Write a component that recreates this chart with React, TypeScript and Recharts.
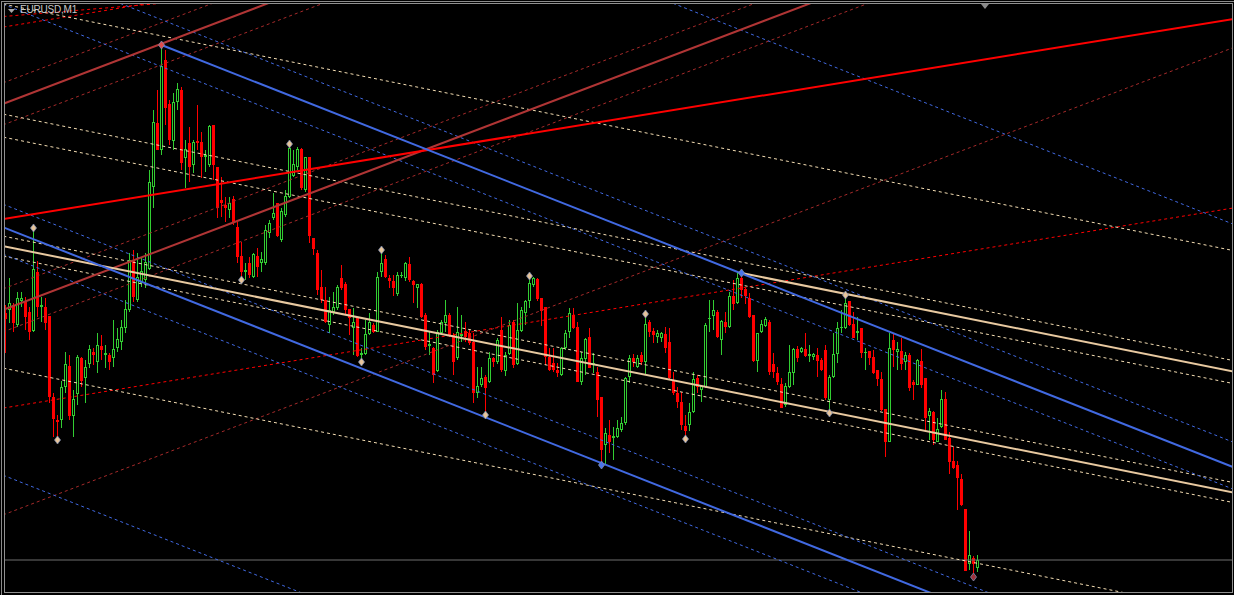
import React from "react";
import { ComposedChart, XAxis, YAxis, Bar, Scatter, ReferenceLine } from "recharts";

// ── EURUSD M1 bars, left to right ─────────────────────────────
const OPEN = [
  1.08687, 1.08690, 1.08695, 1.08675, 1.08699, 1.08698, 1.08688, 1.08669, 1.08728, 1.08693,
  1.08693, 1.08684, 1.08603, 1.08580, 1.08580, 1.08613, 1.08634, 1.08584, 1.08606, 1.08642,
  1.08622, 1.08636, 1.08648, 1.08638, 1.08654, 1.08645, 1.08645, 1.08642, 1.08652, 1.08658,
  1.08672, 1.08690, 1.08740, 1.08700, 1.08717, 1.08720, 1.08731, 1.08813, 1.08877, 1.08850,
  1.08940, 1.08896, 1.08859, 1.08898, 1.08910, 1.08842, 1.08857, 1.08835, 1.08859, 1.08858,
  1.08843, 1.08835, 1.08875, 1.08833, 1.08800, 1.08795, 1.08790, 1.08801, 1.08773, 1.08744,
  1.08728, 1.08737, 1.08723, 1.08744, 1.08737, 1.08737, 1.08767, 1.08782, 1.08797, 1.08760,
  1.08785, 1.08803, 1.08824, 1.08833, 1.08851, 1.08810, 1.08843, 1.08762, 1.08747, 1.08713,
  1.08700, 1.08675, 1.08688, 1.08692, 1.08722, 1.08716, 1.08691, 1.08672, 1.08682, 1.08645,
  1.08646, 1.08666, 1.08675, 1.08668, 1.08728, 1.08741, 1.08722, 1.08719, 1.08706, 1.08724,
  1.08722, 1.08736, 1.08719, 1.08712, 1.08716, 1.08685, 1.08654, 1.08652, 1.08629, 1.08667,
  1.08677, 1.08685, 1.08665, 1.08642, 1.08664, 1.08669, 1.08667, 1.08658, 1.08607, 1.08615,
  1.08623, 1.08618, 1.08642, 1.08638, 1.08670, 1.08629, 1.08646, 1.08678, 1.08636, 1.08669,
  1.08687, 1.08699, 1.08715, 1.08721, 1.08702, 1.08693, 1.08643, 1.08637, 1.08630, 1.08625,
  1.08652, 1.08668, 1.08685, 1.08673, 1.08618, 1.08641, 1.08663, 1.08635, 1.08628, 1.08603,
  1.08555, 1.08565, 1.08562, 1.08563, 1.08570, 1.08577, 1.08623, 1.08642, 1.08633, 1.08645,
  1.08638, 1.08678, 1.08669, 1.08663, 1.08662, 1.08666, 1.08658, 1.08620, 1.08607, 1.08598,
  1.08574, 1.08575, 1.08588, 1.08622, 1.08610, 1.08613, 1.08681, 1.08684, 1.08688, 1.08660,
  1.08678, 1.08673, 1.08704, 1.08697, 1.08722, 1.08711, 1.08702, 1.08685, 1.08639, 1.08668,
  1.08674, 1.08678, 1.08636, 1.08627, 1.08616, 1.08595, 1.08613, 1.08627, 1.08651, 1.08648,
  1.08651, 1.08644, 1.08643, 1.08645, 1.08640, 1.08650, 1.08600, 1.08623, 1.08646, 1.08672,
  1.08672, 1.08699, 1.08676, 1.08667, 1.08672, 1.08647, 1.08649, 1.08643, 1.08630, 1.08621,
  1.08591, 1.08558, 1.08660, 1.08648, 1.08649, 1.08638, 1.08645, 1.08618, 1.08615, 1.08639,
  1.08622, 1.08584, 1.08588, 1.08558, 1.08573, 1.08601, 1.08562, 1.08539, 1.08535, 1.08521,
  1.08491, 1.08436, 1.08442, 1.08432,
];

const HIGH = [
  1.08695, 1.08722, 1.08697, 1.08708, 1.08708, 1.08703, 1.08693, 1.08773, 1.08739, 1.08703,
  1.08702, 1.08684, 1.08607, 1.08585, 1.08619, 1.08648, 1.08645, 1.08610, 1.08645, 1.08643,
  1.08640, 1.08655, 1.08652, 1.08667, 1.08665, 1.08655, 1.08647, 1.08680, 1.08672, 1.08680,
  1.08700, 1.08747, 1.08750, 1.08747, 1.08743, 1.08747, 1.08830, 1.08890, 1.08910, 1.08957,
  1.08950, 1.08900, 1.08907, 1.08917, 1.08913, 1.08860, 1.08873, 1.08860, 1.08895, 1.08868,
  1.08850, 1.08875, 1.08875, 1.08833, 1.08823, 1.08803, 1.08803, 1.08804, 1.08778, 1.08758,
  1.08737, 1.08743, 1.08747, 1.08752, 1.08748, 1.08775, 1.08780, 1.08807, 1.08797, 1.08792,
  1.08810, 1.08856, 1.08850, 1.08853, 1.08852, 1.08843, 1.08843, 1.08762, 1.08750, 1.08730,
  1.08713, 1.08703, 1.08708, 1.08715, 1.08735, 1.08718, 1.08691, 1.08692, 1.08682, 1.08652,
  1.08680, 1.08687, 1.08677, 1.08728, 1.08750, 1.08745, 1.08725, 1.08725, 1.08728, 1.08728,
  1.08738, 1.08743, 1.08720, 1.08716, 1.08717, 1.08687, 1.08668, 1.08653, 1.08670, 1.08680,
  1.08700, 1.08687, 1.08667, 1.08693, 1.08685, 1.08678, 1.08670, 1.08667, 1.08633, 1.08633,
  1.08625, 1.08648, 1.08643, 1.08662, 1.08683, 1.08648, 1.08680, 1.08680, 1.08697, 1.08693,
  1.08700, 1.08725, 1.08723, 1.08722, 1.08702, 1.08693, 1.08652, 1.08652, 1.08637, 1.08653,
  1.08670, 1.08692, 1.08692, 1.08678, 1.08648, 1.08662, 1.08672, 1.08647, 1.08633, 1.08603,
  1.08572, 1.08580, 1.08573, 1.08580, 1.08583, 1.08623, 1.08645, 1.08646, 1.08645, 1.08648,
  1.08688, 1.08680, 1.08672, 1.08670, 1.08668, 1.08673, 1.08672, 1.08628, 1.08613, 1.08608,
  1.08585, 1.08597, 1.08628, 1.08625, 1.08615, 1.08677, 1.08700, 1.08700, 1.08690, 1.08680,
  1.08688, 1.08708, 1.08720, 1.08728, 1.08728, 1.08712, 1.08707, 1.08685, 1.08667, 1.08680,
  1.08683, 1.08680, 1.08647, 1.08633, 1.08622, 1.08617, 1.08655, 1.08652, 1.08654, 1.08653,
  1.08667, 1.08655, 1.08647, 1.08652, 1.08642, 1.08655, 1.08625, 1.08667, 1.08678, 1.08690,
  1.08705, 1.08699, 1.08688, 1.08683, 1.08672, 1.08652, 1.08649, 1.08650, 1.08630, 1.08628,
  1.08591, 1.08667, 1.08667, 1.08658, 1.08662, 1.08648, 1.08647, 1.08620, 1.08641, 1.08651,
  1.08622, 1.08592, 1.08589, 1.08582, 1.08610, 1.08608, 1.08568, 1.08553, 1.08539, 1.08526,
  1.08491, 1.08469, 1.08444, 1.08445,
];

const LOW = [
  1.08647, 1.08677, 1.08668, 1.08673, 1.08693, 1.08670, 1.08660, 1.08668, 1.08683, 1.08678,
  1.08670, 1.08597, 1.08563, 1.08560, 1.08572, 1.08607, 1.08580, 1.08563, 1.08595, 1.08613,
  1.08597, 1.08632, 1.08635, 1.08627, 1.08640, 1.08632, 1.08630, 1.08633, 1.08648, 1.08650,
  1.08667, 1.08688, 1.08698, 1.08698, 1.08713, 1.08712, 1.08730, 1.08792, 1.08850, 1.08845,
  1.08875, 1.08855, 1.08850, 1.08890, 1.08830, 1.08812, 1.08818, 1.08827, 1.08850, 1.08822,
  1.08828, 1.08833, 1.08820, 1.08782, 1.08783, 1.08778, 1.08782, 1.08775, 1.08737, 1.08722,
  1.08720, 1.08722, 1.08722, 1.08723, 1.08728, 1.08735, 1.08762, 1.08780, 1.08763, 1.08758,
  1.08783, 1.08802, 1.08823, 1.08830, 1.08810, 1.08808, 1.08757, 1.08745, 1.08705, 1.08697,
  1.08677, 1.08667, 1.08685, 1.08690, 1.08710, 1.08685, 1.08665, 1.08645, 1.08643, 1.08638,
  1.08645, 1.08665, 1.08667, 1.08668, 1.08723, 1.08722, 1.08712, 1.08704, 1.08704, 1.08722,
  1.08719, 1.08718, 1.08697, 1.08692, 1.08682, 1.08650, 1.08645, 1.08617, 1.08628, 1.08665,
  1.08668, 1.08663, 1.08625, 1.08640, 1.08658, 1.08658, 1.08655, 1.08597, 1.08602, 1.08613,
  1.08587, 1.08617, 1.08633, 1.08636, 1.08628, 1.08624, 1.08645, 1.08632, 1.08635, 1.08668,
  1.08675, 1.08692, 1.08713, 1.08699, 1.08674, 1.08635, 1.08629, 1.08628, 1.08623, 1.08624,
  1.08650, 1.08662, 1.08671, 1.08618, 1.08615, 1.08625, 1.08632, 1.08627, 1.08583, 1.08535,
  1.08535, 1.08547, 1.08540, 1.08562, 1.08568, 1.08575, 1.08617, 1.08633, 1.08632, 1.08635,
  1.08625, 1.08663, 1.08657, 1.08657, 1.08658, 1.08647, 1.08620, 1.08605, 1.08592, 1.08570,
  1.08562, 1.08569, 1.08587, 1.08607, 1.08598, 1.08612, 1.08668, 1.08670, 1.08662, 1.08645,
  1.08667, 1.08672, 1.08690, 1.08696, 1.08702, 1.08696, 1.08682, 1.08638, 1.08628, 1.08667,
  1.08673, 1.08625, 1.08622, 1.08615, 1.08592, 1.08593, 1.08612, 1.08615, 1.08638, 1.08647,
  1.08643, 1.08638, 1.08640, 1.08623, 1.08629, 1.08600, 1.08588, 1.08622, 1.08637, 1.08667,
  1.08671, 1.08674, 1.08662, 1.08660, 1.08642, 1.08630, 1.08635, 1.08626, 1.08614, 1.08589,
  1.08543, 1.08558, 1.08633, 1.08630, 1.08630, 1.08630, 1.08609, 1.08600, 1.08615, 1.08612,
  1.08568, 1.08560, 1.08555, 1.08558, 1.08572, 1.08560, 1.08526, 1.08531, 1.08490, 1.08494,
  1.08429, 1.08430, 1.08425, 1.08428,
];

const CLOSE = [
  1.08681, 1.08697, 1.08677, 1.08702, 1.08702, 1.08683, 1.08668, 1.08731, 1.08693, 1.08695,
  1.08677, 1.08603, 1.08581, 1.08578, 1.08613, 1.08636, 1.08584, 1.08601, 1.08643, 1.08619,
  1.08633, 1.08651, 1.08645, 1.08655, 1.08650, 1.08647, 1.08638, 1.08651, 1.08661, 1.08673,
  1.08691, 1.08740, 1.08703, 1.08723, 1.08729, 1.08738, 1.08818, 1.08878, 1.08850, 1.08934,
  1.08892, 1.08860, 1.08898, 1.08911, 1.08837, 1.08851, 1.08833, 1.08858, 1.08857, 1.08843,
  1.08845, 1.08874, 1.08835, 1.08792, 1.08797, 1.08792, 1.08797, 1.08778, 1.08743, 1.08728,
  1.08730, 1.08725, 1.08746, 1.08733, 1.08741, 1.08770, 1.08777, 1.08787, 1.08764, 1.08789,
  1.08804, 1.08852, 1.08836, 1.08851, 1.08812, 1.08843, 1.08764, 1.08751, 1.08710, 1.08700,
  1.08678, 1.08690, 1.08693, 1.08713, 1.08712, 1.08690, 1.08682, 1.08678, 1.08644, 1.08647,
  1.08666, 1.08678, 1.08668, 1.08723, 1.08737, 1.08723, 1.08719, 1.08712, 1.08725, 1.08725,
  1.08737, 1.08720, 1.08715, 1.08716, 1.08683, 1.08653, 1.08656, 1.08625, 1.08668, 1.08678,
  1.08685, 1.08665, 1.08638, 1.08668, 1.08666, 1.08663, 1.08657, 1.08607, 1.08614, 1.08622,
  1.08612, 1.08642, 1.08638, 1.08660, 1.08630, 1.08645, 1.08675, 1.08635, 1.08670, 1.08690,
  1.08699, 1.08717, 1.08722, 1.08701, 1.08689, 1.08643, 1.08630, 1.08630, 1.08627, 1.08652,
  1.08667, 1.08687, 1.08672, 1.08618, 1.08642, 1.08661, 1.08632, 1.08637, 1.08600, 1.08550,
  1.08567, 1.08558, 1.08564, 1.08572, 1.08577, 1.08622, 1.08642, 1.08638, 1.08642, 1.08638,
  1.08676, 1.08668, 1.08665, 1.08667, 1.08667, 1.08652, 1.08622, 1.08607, 1.08598, 1.08575,
  1.08569, 1.08588, 1.08621, 1.08613, 1.08614, 1.08675, 1.08682, 1.08690, 1.08663, 1.08679,
  1.08673, 1.08704, 1.08696, 1.08722, 1.08710, 1.08704, 1.08683, 1.08639, 1.08667, 1.08676,
  1.08681, 1.08628, 1.08628, 1.08618, 1.08592, 1.08614, 1.08628, 1.08651, 1.08642, 1.08652,
  1.08644, 1.08646, 1.08646, 1.08639, 1.08630, 1.08602, 1.08623, 1.08646, 1.08672, 1.08673,
  1.08697, 1.08675, 1.08662, 1.08669, 1.08647, 1.08648, 1.08642, 1.08627, 1.08621, 1.08590,
  1.08558, 1.08652, 1.08650, 1.08651, 1.08636, 1.08645, 1.08612, 1.08615, 1.08640, 1.08615,
  1.08582, 1.08589, 1.08560, 1.08571, 1.08601, 1.08560, 1.08538, 1.08532, 1.08522, 1.08495,
  1.08429, 1.08445, 1.08436, 1.08440,
];

const BID = 1.0844;

// swing points marked on the chart
const SWING_BAR = [7, 13, 39, 59, 71, 89, 94, 120, 131, 149, 160, 170, 184, 206, 210, 242];
const SWING_PRICE = [
  1.08772, 1.08560, 1.08955, 1.08720, 1.08856, 1.08638, 1.08750, 1.08585,
  1.08724, 1.08535, 1.08686, 1.08561, 1.08727, 1.08587, 1.08705, 1.08423,
];
const SWING_KIND = [
  "swing", "swing", "peak", "swing", "swing", "swing", "swing", "swing",
  "swing", "anchor", "swing", "swing", "anchor", "swing", "swing", "last",
];

const X_TICKS = [16, 32, 48, 64, 80, 96, 112, 128, 144, 160, 176, 192, 208, 224, 240];
const Y_TICKS = [
  1.08415, 1.08453, 1.0849, 1.08528, 1.08566, 1.08604, 1.08641, 1.08679,
  1.08717, 1.08754, 1.08792, 1.0883, 1.08867, 1.08905, 1.08943, 1.08981,
];

// ── drawn objects: [bar1, price1, bar2, price2] ───────────────
const BLUE_SOLID = [
  [39, 1.08955, 310, 1.08528],
  [-2, 1.08775, 310, 1.08283],
];
const BLUE_DOTTED = [
  [-2, 1.09045, 310, 1.08553],
  [-2, 1.08998, 310, 1.08506],
  [-2, 1.09263, 310, 1.08771],
  [-2, 1.08798, 310, 1.08306],
  [-2, 1.08748, 310, 1.08256],
  [-2, 1.08527, 310, 1.08035],
];
const BROWN_SOLID = [
  [-2, 1.08894, 310, 1.09368],
  [-2, 1.08688, 310, 1.09162],
];
const BROWN_DOTTED = [
  [-2, 1.08915, 310, 1.09389],
  [-2, 1.08873, 310, 1.09347],
  [-2, 1.08709, 310, 1.09183],
  [-2, 1.08666, 310, 1.0914],
  [-2, 1.08483, 310, 1.08957],
];
const RED_SOLID = [[-2, 1.0878, 310, 1.08983]];
const RED_DOTTED = [
  [-2, 1.08591, 310, 1.08794],
  [-2, 1.08972, 310, 1.09175],
  [-2, 1.08983, 310, 1.09087],
];
const TAN_SOLID = [
  [-2, 1.08755, 310, 1.08505],
  [184, 1.08727, 310, 1.08626],
];
const TAN_DOTTED = [
  [-2, 1.08997, 310, 1.08747],
  [-2, 1.08887, 310, 1.08637],
  [-2, 1.08864, 310, 1.08614],
  [-2, 1.08765, 310, 1.08515],
  [-2, 1.08745, 310, 1.08495],
  [-2, 1.08633, 310, 1.08383],
];

const LINE_GROUPS = [
  { lines: BROWN_DOTTED, stroke: "#a52a2a", width: 1, dash: "3 3" },
  { lines: RED_DOTTED, stroke: "#ff0000", width: 1, dash: "3 3" },
  { lines: TAN_DOTTED, stroke: "#f5deb3", width: 1, dash: "3 3" },
  { lines: BLUE_DOTTED, stroke: "#4169e1", width: 1, dash: "3 3" },
  { lines: BROWN_SOLID, stroke: "#b03535", width: 2, dash: undefined },
  { lines: RED_SOLID, stroke: "#ff0000", width: 2, dash: undefined },
  { lines: TAN_SOLID, stroke: "#e8c9a0", width: 2, dash: undefined },
  { lines: BLUE_SOLID, stroke: "#4169e1", width: 2, dash: undefined },
];

const candles = OPEN.map((o, i) => ({ k: i, open: o, high: HIGH[i], low: LOW[i], close: CLOSE[i] }));
const swings = SWING_BAR.map((k, i) => ({ k, p: SWING_PRICE[i], kind: SWING_KIND[i] }));

const BULL = "#32cd32";
const BEAR = "#ff0000";

function Candle(props: any) {
  const { x, y, width, height, payload } = props;
  if (!payload || y == null || height == null || isNaN(y)) return null;
  const { open, high, low, close } = payload;
  const py = (v: number) => y + ((high - v) / (high - low)) * height;
  const cx = Math.round(x + width / 2 - 0.5) + 0.5;
  const hi = Math.round(y);
  const lo = Math.round(y + height);
  const top = Math.round(py(Math.max(open, close)));
  const bot = Math.round(py(Math.min(open, close)));
  if (close < open) {
    return (
      <g shapeRendering="crispEdges">
        <line x1={cx} x2={cx} y1={hi} y2={lo} stroke={BEAR} />
        <rect x={cx - 1.5} y={top} width={3} height={Math.max(1, bot - top)} fill={BEAR} />
      </g>
    );
  }
  return (
    <g shapeRendering="crispEdges">
      <line x1={cx} x2={cx} y1={hi} y2={top} stroke={BULL} />
      <line x1={cx} x2={cx} y1={bot} y2={lo} stroke={BULL} />
      {bot - top > 1 ? (
        <rect x={cx - 1} y={top + 0.5} width={2} height={bot - top - 1} fill="#000" stroke={BULL} />
      ) : (
        <line x1={cx - 1.5} x2={cx + 1.5} y1={top + 0.5} y2={top + 0.5} stroke={BULL} />
      )}
    </g>
  );
}

function Diamond(props: any) {
  const { cx, cy, payload } = props;
  if (cx == null || cy == null) return null;
  const fill =
    payload.kind === "anchor" ? "#4a74ea" :
    payload.kind === "last" ? "#a03038" :
    payload.kind === "peak" ? "#e04a4a" : "#e6c49a";
  return (
    <path
      d={`M${cx},${cy - 4} L${cx + 3},${cy} L${cx},${cy + 4} L${cx - 3},${cy} Z`}
      fill={fill}
      stroke="#7d8db0"
      strokeWidth={0.8}
    />
  );
}

export default function App() {
  return (
    <div style={{ position: "fixed", left: 0, top: 0, width: 1234, height: 595, background: "#000", overflow: "hidden" }}>
      <ComposedChart width={1234} height={595} data={candles} margin={{ top: 4, right: 2, bottom: 3, left: 5 }}>
        <XAxis
          type="number" dataKey="k" domain={[-0.125, 306.625]} allowDataOverflow
          ticks={X_TICKS} tick={false} tickSize={3} tickLine={{ stroke: "#9a9a9a" }}
          axisLine={false} height={0}
        />
        <YAxis
          type="number" orientation="right" domain={[1.08408, 1.08996]} allowDataOverflow
          ticks={Y_TICKS} tick={false} tickSize={3} tickLine={{ stroke: "#9a9a9a" }}
          axisLine={false} width={0}
        />
        <ReferenceLine y={BID} stroke="#6e6e6e" strokeWidth={1} ifOverflow="hidden" />
        <Bar dataKey={(d: any) => [d.low, d.high]} barSize={4} shape={Candle} isAnimationActive={false} />
        {LINE_GROUPS.map((g, gi) =>
          g.lines.map((l, li) => (
            <ReferenceLine
              key={`${gi}-${li}`}
              segment={[{ x: l[0], y: l[1] }, { x: l[2], y: l[3] }]}
              stroke={g.stroke}
              strokeWidth={g.width}
              strokeDasharray={g.dash}
              ifOverflow="hidden"
            />
          ))
        )}
        <Scatter data={swings} dataKey="p" shape={Diamond} isAnimationActive={false} />
      </ComposedChart>

      {/* window frame */}
      <div style={{ position: "absolute", left: 1, top: 1, width: 1233, height: 594, borderLeft: "1px solid #8a8a8a", borderTop: "1px solid #8a8a8a", pointerEvents: "none" }} />
      <div style={{ position: "absolute", left: 4, top: 3, width: 1229, height: 590, border: "1px solid #909090", boxSizing: "border-box", pointerEvents: "none" }} />

      {/* chart shift marker */}
      <svg style={{ position: "absolute", left: 981, top: 4 }} width={9} height={6}>
        <polygon points="0,0 8,0 4,5" fill="#8a8a8a" />
      </svg>

      {/* symbol caption */}
      <svg style={{ position: "absolute", left: 8, top: 9 }} width={8} height={5}>
        <polygon points="0,0 7,0 3.5,4" fill="#a8a8a8" />
      </svg>
      <div
        style={{
          position: "absolute", left: 20, top: 4, lineHeight: "12px",
          fontFamily: '"Liberation Sans", Arial, sans-serif', fontSize: 10,
          letterSpacing: -0.2, color: "#c8c8c8",
        }}
      >
        EURUSD,M1
      </div>
    </div>
  );
}
